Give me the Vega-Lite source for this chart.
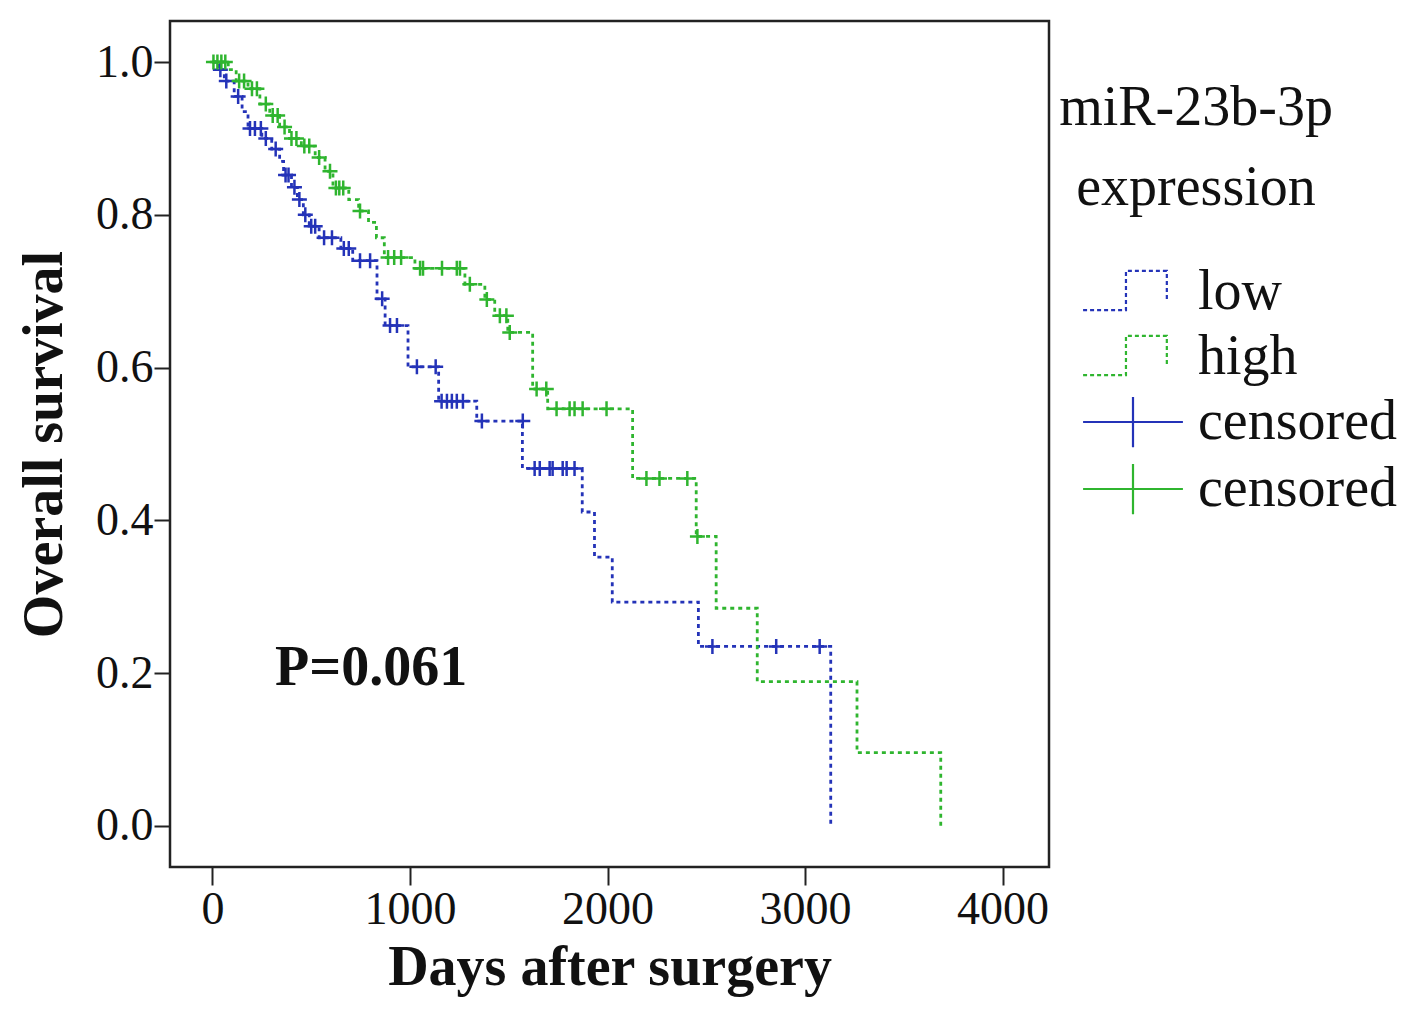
{
  "$schema": "https://vega.github.io/schema/vega-lite/v6.json",
  "autosize": "none",
  "padding": {"left": 170, "top": 21, "right": 368, "bottom": 158},
  "width": 879,
  "height": 846,
  "background": "white",
  "config": {
    "font": "Liberation Serif",
    "view": {"stroke": "#222222", "strokeWidth": 2.5},
    "axis": {
      "grid": false,
      "domain": false,
      "tickColor": "#222222",
      "tickWidth": 2,
      "labelFont": "Liberation Serif",
      "labelFontSize": 46,
      "labelColor": "#111111",
      "titleFont": "Liberation Serif",
      "titleFontWeight": "bold",
      "titleFontSize": 56,
      "titleColor": "#111111"
    }
  },
  "datasets": {
    "curves": [
      {"series": "low", "days": 0, "surv": 1.0},
      {"series": "low", "days": 30, "surv": 0.99},
      {"series": "low", "days": 60, "surv": 0.975},
      {"series": "low", "days": 110, "surv": 0.955},
      {"series": "low", "days": 150, "surv": 0.935},
      {"series": "low", "days": 180, "surv": 0.913},
      {"series": "low", "days": 250, "surv": 0.9},
      {"series": "low", "days": 300, "surv": 0.886},
      {"series": "low", "days": 340, "surv": 0.87},
      {"series": "low", "days": 360, "surv": 0.852},
      {"series": "low", "days": 400, "surv": 0.836},
      {"series": "low", "days": 430, "surv": 0.82},
      {"series": "low", "days": 460, "surv": 0.8},
      {"series": "low", "days": 490, "surv": 0.785},
      {"series": "low", "days": 540, "surv": 0.77},
      {"series": "low", "days": 650, "surv": 0.756},
      {"series": "low", "days": 710, "surv": 0.74},
      {"series": "low", "days": 833, "surv": 0.69},
      {"series": "low", "days": 874, "surv": 0.655},
      {"series": "low", "days": 990, "surv": 0.601},
      {"series": "low", "days": 1145, "surv": 0.556},
      {"series": "low", "days": 1338, "surv": 0.53},
      {"series": "low", "days": 1569, "surv": 0.468},
      {"series": "low", "days": 1872, "surv": 0.411},
      {"series": "low", "days": 1934, "surv": 0.352},
      {"series": "low", "days": 2024, "surv": 0.293},
      {"series": "low", "days": 2460, "surv": 0.235},
      {"series": "low", "days": 3130, "surv": 0.0},
      {"series": "high", "days": 0, "surv": 1.0},
      {"series": "high", "days": 80, "surv": 0.99},
      {"series": "high", "days": 120, "surv": 0.975},
      {"series": "high", "days": 180, "surv": 0.965},
      {"series": "high", "days": 240, "surv": 0.945},
      {"series": "high", "days": 290, "surv": 0.93},
      {"series": "high", "days": 340, "surv": 0.915},
      {"series": "high", "days": 390, "surv": 0.9},
      {"series": "high", "days": 450, "surv": 0.89},
      {"series": "high", "days": 520, "surv": 0.875},
      {"series": "high", "days": 570, "surv": 0.857},
      {"series": "high", "days": 610, "surv": 0.835},
      {"series": "high", "days": 690, "surv": 0.82},
      {"series": "high", "days": 740, "surv": 0.805},
      {"series": "high", "days": 790, "surv": 0.79},
      {"series": "high", "days": 830, "surv": 0.77},
      {"series": "high", "days": 870, "surv": 0.744},
      {"series": "high", "days": 1025, "surv": 0.73},
      {"series": "high", "days": 1278, "surv": 0.709},
      {"series": "high", "days": 1379, "surv": 0.689},
      {"series": "high", "days": 1429, "surv": 0.668},
      {"series": "high", "days": 1495, "surv": 0.646},
      {"series": "high", "days": 1621, "surv": 0.572},
      {"series": "high", "days": 1697, "surv": 0.546},
      {"series": "high", "days": 2127, "surv": 0.455},
      {"series": "high", "days": 2449, "surv": 0.379},
      {"series": "high", "days": 2550, "surv": 0.285},
      {"series": "high", "days": 2758, "surv": 0.189},
      {"series": "high", "days": 3263, "surv": 0.096},
      {"series": "high", "days": 3687, "surv": 0.0}
    ],
    "censored": [
      {"series": "censored_low", "days": 40, "surv": 0.99},
      {"series": "censored_low", "days": 70, "surv": 0.975},
      {"series": "censored_low", "days": 130, "surv": 0.955},
      {"series": "censored_low", "days": 190, "surv": 0.913},
      {"series": "censored_low", "days": 215, "surv": 0.913},
      {"series": "censored_low", "days": 245, "surv": 0.913},
      {"series": "censored_low", "days": 270, "surv": 0.9},
      {"series": "censored_low", "days": 320, "surv": 0.886},
      {"series": "censored_low", "days": 370, "surv": 0.852},
      {"series": "censored_low", "days": 385, "surv": 0.852},
      {"series": "censored_low", "days": 415, "surv": 0.836},
      {"series": "censored_low", "days": 440, "surv": 0.82},
      {"series": "censored_low", "days": 470, "surv": 0.8},
      {"series": "censored_low", "days": 500, "surv": 0.785},
      {"series": "censored_low", "days": 520, "surv": 0.785},
      {"series": "censored_low", "days": 565, "surv": 0.77},
      {"series": "censored_low", "days": 605, "surv": 0.77},
      {"series": "censored_low", "days": 665, "surv": 0.756},
      {"series": "censored_low", "days": 690, "surv": 0.756},
      {"series": "censored_low", "days": 747, "surv": 0.74},
      {"series": "censored_low", "days": 798, "surv": 0.74},
      {"series": "censored_low", "days": 859, "surv": 0.69},
      {"series": "censored_low", "days": 899, "surv": 0.655},
      {"series": "censored_low", "days": 934, "surv": 0.655},
      {"series": "censored_low", "days": 1035, "surv": 0.601},
      {"series": "censored_low", "days": 1130, "surv": 0.601},
      {"series": "censored_low", "days": 1160, "surv": 0.556},
      {"series": "censored_low", "days": 1187, "surv": 0.556},
      {"series": "censored_low", "days": 1212, "surv": 0.556},
      {"series": "censored_low", "days": 1237, "surv": 0.556},
      {"series": "censored_low", "days": 1268, "surv": 0.556},
      {"series": "censored_low", "days": 1364, "surv": 0.53},
      {"series": "censored_low", "days": 1571, "surv": 0.53},
      {"series": "censored_low", "days": 1631, "surv": 0.468},
      {"series": "censored_low", "days": 1657, "surv": 0.468},
      {"series": "censored_low", "days": 1707, "surv": 0.468},
      {"series": "censored_low", "days": 1722, "surv": 0.468},
      {"series": "censored_low", "days": 1773, "surv": 0.468},
      {"series": "censored_low", "days": 1793, "surv": 0.468},
      {"series": "censored_low", "days": 1833, "surv": 0.468},
      {"series": "censored_low", "days": 2531, "surv": 0.235},
      {"series": "censored_low", "days": 2854, "surv": 0.235},
      {"series": "censored_low", "days": 3074, "surv": 0.235},
      {"series": "censored_high", "days": 5, "surv": 1.0},
      {"series": "censored_high", "days": 25, "surv": 1.0},
      {"series": "censored_high", "days": 45, "surv": 1.0},
      {"series": "censored_high", "days": 65, "surv": 1.0},
      {"series": "censored_high", "days": 135, "surv": 0.975},
      {"series": "censored_high", "days": 160, "surv": 0.975},
      {"series": "censored_high", "days": 200, "surv": 0.965},
      {"series": "censored_high", "days": 225, "surv": 0.965},
      {"series": "censored_high", "days": 270, "surv": 0.945},
      {"series": "censored_high", "days": 305, "surv": 0.93},
      {"series": "censored_high", "days": 330, "surv": 0.93},
      {"series": "censored_high", "days": 365, "surv": 0.915},
      {"series": "censored_high", "days": 400, "surv": 0.9},
      {"series": "censored_high", "days": 425, "surv": 0.9},
      {"series": "censored_high", "days": 465, "surv": 0.89},
      {"series": "censored_high", "days": 490, "surv": 0.89},
      {"series": "censored_high", "days": 540, "surv": 0.875},
      {"series": "censored_high", "days": 595, "surv": 0.857},
      {"series": "censored_high", "days": 625, "surv": 0.835},
      {"series": "censored_high", "days": 642, "surv": 0.835},
      {"series": "censored_high", "days": 662, "surv": 0.835},
      {"series": "censored_high", "days": 747, "surv": 0.805},
      {"series": "censored_high", "days": 889, "surv": 0.744},
      {"series": "censored_high", "days": 920, "surv": 0.744},
      {"series": "censored_high", "days": 955, "surv": 0.744},
      {"series": "censored_high", "days": 1051, "surv": 0.73},
      {"series": "censored_high", "days": 1066, "surv": 0.73},
      {"series": "censored_high", "days": 1162, "surv": 0.73},
      {"series": "censored_high", "days": 1237, "surv": 0.73},
      {"series": "censored_high", "days": 1253, "surv": 0.73},
      {"series": "censored_high", "days": 1303, "surv": 0.709},
      {"series": "censored_high", "days": 1389, "surv": 0.689},
      {"series": "censored_high", "days": 1455, "surv": 0.668},
      {"series": "censored_high", "days": 1488, "surv": 0.668},
      {"series": "censored_high", "days": 1505, "surv": 0.646},
      {"series": "censored_high", "days": 1641, "surv": 0.572},
      {"series": "censored_high", "days": 1690, "surv": 0.572},
      {"series": "censored_high", "days": 1742, "surv": 0.546},
      {"series": "censored_high", "days": 1808, "surv": 0.546},
      {"series": "censored_high", "days": 1833, "surv": 0.546},
      {"series": "censored_high", "days": 1874, "surv": 0.546},
      {"series": "censored_high", "days": 1995, "surv": 0.546},
      {"series": "censored_high", "days": 2197, "surv": 0.455},
      {"series": "censored_high", "days": 2263, "surv": 0.455},
      {"series": "censored_high", "days": 2404, "surv": 0.455},
      {"series": "censored_high", "days": 2455, "surv": 0.379}
    ],
    "notes": [
      {"label": "P=0.061", "days": 803, "surv": 0.185}
    ]
  },
  "encoding": {
    "x": {
      "field": "days",
      "type": "quantitative",
      "scale": {"domain": [-215, 4235], "nice": false, "zero": false},
      "axis": {
        "title": "Days after surgery",
        "values": [0, 1000, 2000, 3000, 4000],
        "format": "d",
        "tickSize": 18,
        "labelPadding": 2,
        "titlePadding": 8
      }
    },
    "y": {
      "field": "surv",
      "type": "quantitative",
      "scale": {"domain": [-0.0537, 1.0537], "nice": false, "zero": false},
      "axis": {
        "title": "Overall survival",
        "values": [0, 0.2, 0.4, 0.6, 0.8, 1.0],
        "format": ".1f",
        "tickSize": 16,
        "labelPadding": 1,
        "titlePadding": 22
      }
    }
  },
  "layer": [
    {
      "data": {"name": "curves"},
      "mark": {
        "type": "line",
        "interpolate": "step-after",
        "strokeWidth": 2.8,
        "strokeDash": [4, 4]
      },
      "encoding": {
        "color": {
          "field": "series",
          "type": "nominal",
          "scale": {
            "domain": ["low", "high", "censored_low", "censored_high"],
            "range": ["#2433b8", "#2fb52f", "#2433b8", "#2fb52f"]
          },
          "legend": {
            "orient": "none",
            "legendX": 889,
            "legendY": 60,
            "padding": 0,
            "title": ["miR-23b-3p", "expression"],
            "titleFont": "Liberation Serif",
            "titleFontWeight": "normal",
            "titleFontSize": 56,
            "titleColor": "#111111",
            "titleLineHeight": 80,
            "titleAnchor": "middle",
            "titleAlign": "center",
            "titlePadding": 40,
            "titleLimit": 600,
            "labelFont": "Liberation Serif",
            "labelFontSize": 56,
            "labelColor": "#111111",
            "labelOffset": 30,
            "labelLimit": 600,
            "symbolSize": 4489,
            "rowPadding": 2,
            "labelExpr": "indexof(datum.value, 'censored') == 0 ? 'censored' : datum.value",
            "encode": {
              "title": {"update": {"dx": {"value": -52}}},
              "symbols": {
                "update": {
                  "shape": {"signal": "indexof(datum.value, 'censored') == 0 ? 'M-1.49,0H1.49M0,-0.75V0.75' : 'M-1.49,0.54H-0.21V-0.63H1.01V0.24'"},
                  "strokeDash": {"signal": "indexof(datum.value, 'censored') == 0 ? [1, 0] : [4, 3]"},
                  "stroke": {"signal": "indexof(datum.value, 'low') >= 0 ? '#2a3fe0' : '#30cc30'"},
                  "fill": {"value": "transparent"},
                  "fillOpacity": {"value": 0},
                  "strokeWidth": {"value": 2.2},
                  "opacity": {"value": 1}
                }
              }
            }
          }
        }
      }
    },
    {
      "data": {"name": "censored"},
      "mark": {
        "type": "point",
        "shape": "M-1,0H1M0,-1V1",
        "size": 225,
        "filled": false,
        "strokeWidth": 2.5,
        "opacity": 1
      },
      "encoding": {
        "color": {"field": "series", "type": "nominal"}
      }
    },
    {
      "data": {"name": "notes"},
      "mark": {
        "type": "text",
        "font": "Liberation Serif",
        "fontWeight": "bold",
        "fontSize": 56,
        "align": "center",
        "baseline": "alphabetic",
        "color": "#111111"
      },
      "encoding": {
        "text": {"field": "label", "type": "nominal"}
      }
    }
  ]
}
